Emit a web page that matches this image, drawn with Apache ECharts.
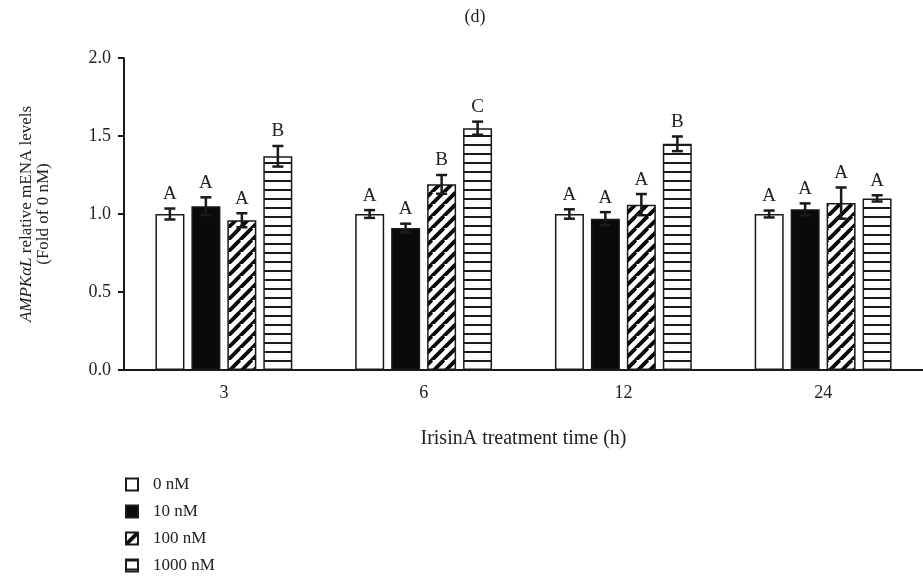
<!DOCTYPE html>
<html>
<head>
<meta charset="utf-8">
<script src="https://cdn.jsdelivr.net/npm/echarts@6/dist/echarts.min.js"></script>
<style>
  html, body { margin: 0; padding: 0; background: #fff; }
  #chart { width: 923px; height: 577px; }
</style>
</head>
<body>
<div id="chart"></div>
<script>
// data
const categories = ['3', '6', '12', '24'];
const seriesNames = ['0 nM', '10 nM', '100 nM', '1000 nM'];
const mean0 = [1.00, 1.00, 1.00, 1.00];
const mean10 = [1.05, 0.91, 0.97, 1.03];
const mean100 = [0.96, 1.19, 1.06, 1.07];
const mean1000 = [1.37, 1.55, 1.45, 1.10];
const err0 = [0.035, 0.025, 0.03, 0.022];
const err10 = [0.057, 0.028, 0.042, 0.038];
const err100 = [0.045, 0.06, 0.068, 0.10];
const err1000 = [0.066, 0.042, 0.047, 0.02];
const letters0 = ['A', 'A', 'A', 'A'];
const letters10 = ['A', 'A', 'A', 'A'];
const letters100 = ['A', 'B', 'A', 'A'];
const letters1000 = ['B', 'C', 'B', 'A'];

const means = [mean0, mean10, mean100, mean1000];
const errs = [err0, err10, err100, err1000];
const letters = [letters0, letters10, letters100, letters1000];

const font = '"Liberation Serif", "DejaVu Serif", serif';
const ink = '#1a1a1a';
const txt = '#222';
const BAR_W = 29;
const BAR_GAP = 7;

// fill patterns
function diagPattern () {
    const c = document.createElement('canvas');
    c.width = 12; c.height = 12;
    const g = c.getContext('2d');
    g.fillStyle = '#fff';
    g.fillRect(0, 0, 12, 12);
    g.strokeStyle = '#0a0a0a';
    g.lineWidth = 3.6;
    [[0, 12, 12, 0], [-12, 12, 0, 0], [12, 12, 24, 0], [0, 24, 24, 0], [-12, 24, 12, 0]].forEach(function (l) {
        g.beginPath(); g.moveTo(l[0], l[1]); g.lineTo(l[2], l[3]); g.stroke();
    });
    return c;
}
function hLinePattern () {
    const c = document.createElement('canvas');
    c.width = 4; c.height = 9;
    const g = c.getContext('2d');
    g.fillStyle = '#fff';
    g.fillRect(0, 0, 4, 9);
    g.fillStyle = '#1a1a1a';
    g.fillRect(0, 0, 4, 2);
    return c;
}

const fills = ['#ffffff', '#0a0a08', { image: diagPattern(), repeat: 'repeat' }, { image: hLinePattern(), repeat: 'repeat' }];

const barSeries = seriesNames.map(function (name, k) {
    return {
        name: name,
        type: 'bar',
        data: means[k],
        barWidth: BAR_W,
        barGap: (BAR_GAP / BAR_W * 100).toFixed(0) + '%',
        itemStyle: { color: fills[k], borderColor: ink, borderWidth: 1.5 },
        emphasis: { disabled: true }
    };
});

// error bars + significance letters
const errSeries = seriesNames.map(function (name, k) {
    return {
        type: 'custom',
        silent: true,
        z: 5,
        data: categories.map(function (c, i) { return [i, means[k][i], errs[k][i], letters[k][i]]; }),
        renderItem: function (params, api) {
            const off = (k - 1.5) * (BAR_W + BAR_GAP);
            const m = api.value(1), e = api.value(2);
            const top = api.coord([api.value(0), m + e]);
            const bot = api.coord([api.value(0), m - e]);
            const x = top[0] + off;
            const st = { stroke: ink, lineWidth: 2.5 };
            return {
                type: 'group',
                children: [
                    { type: 'line', shape: { x1: x, y1: top[1], x2: x, y2: bot[1] }, style: st },
                    { type: 'line', shape: { x1: x - 5.5, y1: top[1], x2: x + 5.5, y2: top[1] }, style: st },
                    { type: 'line', shape: { x1: x - 5.5, y1: bot[1], x2: x + 5.5, y2: bot[1] }, style: st },
                    {
                        type: 'text',
                        x: x, y: top[1] - 5,
                        style: {
                            text: api.value(3), fill: txt, font: '19px ' + font,
                            align: 'center', verticalAlign: 'bottom'
                        }
                    }
                ]
            };
        }
    };
});

const chart = echarts.init(document.getElementById('chart'));
chart.setOption({
    animation: false,
    backgroundColor: '#fff',
    title: {
        text: '(d)',
        left: 470, top: 3,
        textAlign: 'center',
        textStyle: { fontFamily: font, fontSize: 18, fontWeight: 'normal', color: txt }
    },
    grid: { left: 124, top: 58, width: 807, height: 312 },
    legend: {
        data: seriesNames,
        orient: 'vertical',
        left: 125, top: 476,
        padding: 0,
        icon: 'rect',
        itemWidth: 12, itemHeight: 12,
        itemGap: 10,
        height: 120,
        selectedMode: false,
        textStyle: { fontFamily: font, fontSize: 17, lineHeight: 15, color: txt, padding: [0, 0, 0, 10] }
    },
    xAxis: {
        type: 'category',
        data: categories,
        name: 'IrisinA treatment time (h)',
        nameLocation: 'middle',
        nameGap: 59,
        nameTextStyle: { fontFamily: font, fontSize: 20, color: txt },
        axisLine: { lineStyle: { color: ink, width: 2 } },
        axisTick: { alignWithLabel: true, length: 6, lineStyle: { color: ink, width: 2 } },
        axisLabel: { fontFamily: font, fontSize: 18, color: txt, margin: 14 }
    },
    yAxis: {
        type: 'value',
        min: 0, max: 2, interval: 0.5,
        name: '{i|AMPKαL} relative mENA levels\n(Fold of 0 nM)',
        nameLocation: 'middle',
        nameRotate: 90,
        nameGap: 72,
        nameTextStyle: {
            fontFamily: font, fontSize: 17, color: txt, lineHeight: 17,
            rich: { i: { fontFamily: font, fontSize: 17, fontStyle: 'italic', color: txt, lineHeight: 17 } }
        },
        axisLine: { show: true, lineStyle: { color: ink, width: 2 } },
        axisTick: { show: true, length: 6, lineStyle: { color: ink, width: 2 } },
        splitLine: { show: false },
        axisLabel: {
            fontFamily: font, fontSize: 18, color: txt, margin: 13,
            formatter: function (v) { return v.toFixed(1); }
        }
    },
    series: barSeries.concat(errSeries)
});
</script>
</body>
</html>
